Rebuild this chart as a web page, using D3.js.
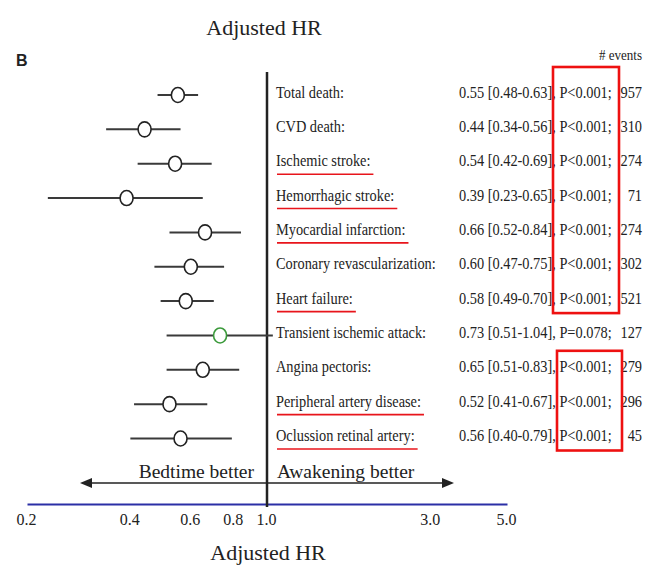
<!DOCTYPE html>
<html>
<head>
<meta charset="utf-8">
<script src="https://cdn.jsdelivr.net/npm/d3@7"></script>
<style>
  html, body { margin: 0; padding: 0; background: #fff; }
  svg { display: block; }
</style>
</head>
<body>
<script>
// ---- data ----
const outcomes = ["Total death:", "CVD death:", "Ischemic stroke:", "Hemorrhagic stroke:",
  "Myocardial infarction:", "Coronary revascularization:", "Heart failure:",
  "Transient ischemic attack:", "Angina pectoris:", "Peripheral artery disease:",
  "Oclussion retinal artery:"];
const hr     = [0.55, 0.44, 0.54, 0.39, 0.66, 0.60, 0.58, 0.73, 0.65, 0.52, 0.56];
const lower  = [0.48, 0.34, 0.42, 0.23, 0.52, 0.47, 0.49, 0.51, 0.51, 0.41, 0.40];
const upper  = [0.63, 0.56, 0.69, 0.65, 0.84, 0.75, 0.70, 1.04, 0.83, 0.67, 0.79];
const pText  = ["P<0.001", "P<0.001", "P<0.001", "P<0.001", "P<0.001", "P<0.001", "P<0.001",
  "P=0.078", "P<0.001", "P<0.001", "P<0.001"];
const events = [957, 310, 274, 71, 274, 302, 521, 127, 279, 296, 45];
const underlined = [false, false, true, true, true, false, true, false, false, true, true];
const significant = [true, true, true, true, true, true, true, false, true, true, true];
const tickValues = [0.2, 0.4, 0.6, 0.8, 1.0, 3.0, 5.0];
const boxGroups = [[0, 6], [8, 10]];

// ---- drawing ----
const W = 646, H = 567;
const serif = "'Liberation Serif', 'Times New Roman', serif";
const svg = d3.select("body").append("svg").attr("width", W).attr("height", H);

const x = d3.scaleLog().domain([0.2, 5]).range([27, 507]);
const y = d3.scalePoint().domain(d3.range(outcomes.length)).range([95, 438.5]);
const axisY = 504;
const refX = x(1);

// titles
svg.append("text").attr("x", 264).attr("y", 35).attr("text-anchor", "middle")
  .attr("font-family", serif).attr("font-size", 22).attr("fill", "#222").text("Adjusted HR");
svg.append("text").attr("x", 268).attr("y", 560).attr("text-anchor", "middle")
  .attr("font-family", serif).attr("font-size", 22).attr("fill", "#222").text("Adjusted HR");
svg.append("text").attr("x", 16).attr("y", 66)
  .attr("font-family", "'Liberation Sans', Arial, sans-serif").attr("font-weight", "bold")
  .attr("font-size", 16).attr("fill", "#222").text("B");
svg.append("g").attr("transform", `translate(642,60) scale(0.87,1)`)
  .append("text").attr("text-anchor", "end").attr("font-family", serif)
  .attr("font-size", 15).attr("fill", "#222").text("# events");

// axis
const axis = d3.axisBottom(x).tickValues(tickValues).tickFormat(d3.format(".1f"))
  .tickSizeInner(0).tickSizeOuter(0).tickPadding(9.5);
const ax = svg.append("g").attr("transform", `translate(0,${axisY})`).call(axis);
ax.select(".domain").attr("stroke", "#2b2fa6").attr("stroke-width", 2);
ax.selectAll(".tick text").attr("font-family", serif).attr("font-size", 16)
  .attr("fill", "#222").attr("dx", -1);

// reference line
svg.append("line").attr("x1", refX).attr("x2", refX).attr("y1", 72).attr("y2", axisY + 3)
  .attr("stroke", "#222").attr("stroke-width", 2.5);

// arrows
const arrowY = 483;
svg.append("line").attr("x1", 88).attr("x2", 446).attr("y1", arrowY).attr("y2", arrowY)
  .attr("stroke", "#222").attr("stroke-width", 1.6);
svg.append("path").attr("d", `M80,${arrowY}L92,${arrowY - 5}L92,${arrowY + 5}Z`).attr("fill", "#222");
svg.append("path").attr("d", `M454,${arrowY}L442,${arrowY - 5}L442,${arrowY + 5}Z`).attr("fill", "#222");
svg.append("text").attr("x", refX - 13).attr("y", 478).attr("text-anchor", "end")
  .attr("font-family", serif).attr("font-size", 19.5).attr("fill", "#222").text("Bedtime better");
svg.append("text").attr("x", refX + 10).attr("y", 478).attr("text-anchor", "start")
  .attr("font-family", serif).attr("font-size", 19.5).attr("fill", "#222").text("Awakening better");

// CI lines and markers
const rows = svg.append("g").selectAll("g").data(outcomes.map((d, i) => i)).join("g");
rows.append("line")
  .attr("x1", i => x(lower[i])).attr("x2", i => x(upper[i]))
  .attr("y1", i => y(i)).attr("y2", i => y(i))
  .attr("stroke", "#3a3a3a").attr("stroke-width", 2);
rows.append("ellipse")
  .attr("cx", i => x(hr[i])).attr("cy", i => y(i)).attr("rx", 6.5).attr("ry", 7.5)
  .attr("fill", "#fff")
  .attr("stroke", i => significant[i] ? "#222" : "#3b9a3b").attr("stroke-width", 1.6);

// labels
const fs = 16.5, sx = 0.87;
rows.each(function (i) {
  const g = d3.select(this);
  const lg = g.append("g").attr("transform", `translate(276,${y(i) + 2.5}) scale(${sx},1)`);
  const t = lg.append("text").attr("font-family", serif).attr("font-size", fs)
    .attr("fill", "#222").text(outcomes[i]);
  if (underlined[i]) {
    const w = t.node().getComputedTextLength() * sx;
    g.append("line").attr("x1", 277).attr("x2", 277 + w + 2)
      .attr("y1", y(i) + 10.5).attr("y2", y(i) + 10.5)
      .attr("stroke", "#e8141b").attr("stroke-width", 1.6);
  }
  const f = d3.format(".2f");
  g.append("g").attr("transform", `translate(459,${y(i) + 2.5}) scale(${sx},1)`)
    .append("text").attr("font-family", serif).attr("font-size", fs).attr("fill", "#222")
    .text(`${f(hr[i])} [${f(lower[i])}-${f(upper[i])}], ${pText[i]};`);
  g.append("g").attr("transform", `translate(642,${y(i) + 2.5}) scale(${sx},1)`)
    .append("text").attr("text-anchor", "end").attr("font-family", serif).attr("font-size", fs)
    .attr("fill", "#222").text(events[i]);
});

// red highlight boxes
const boxX = [[553, 619], [557, 622]];
boxGroups.forEach((b, k) => {
  const top = k === 0 ? y(b[0]) - 28 : y(b[0]) - 19;
  const bot = y(b[1]) + 12;
  svg.append("rect").attr("x", boxX[k][0]).attr("y", top)
    .attr("width", boxX[k][1] - boxX[k][0]).attr("height", bot - top)
    .attr("fill", "none").attr("stroke", "#ee1111").attr("stroke-width", 2.6);
});
</script>
</body>
</html>
